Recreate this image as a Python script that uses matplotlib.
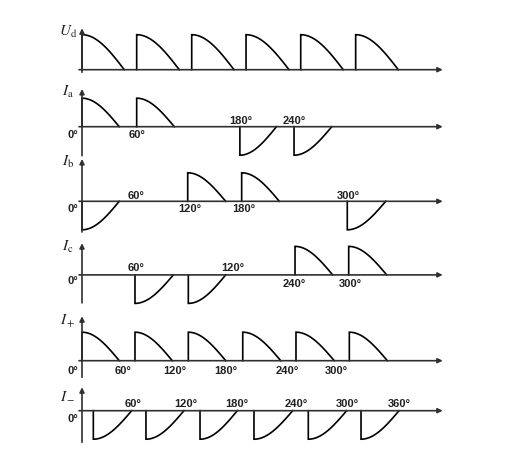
import numpy as np
import matplotlib
matplotlib.use('Agg')
import matplotlib.pyplot as plt

plt.rcParams['mathtext.fontset'] = 'stix'

W, H = 523, 464
PX_PER_DEG = 0.892   # horizontal scale of the drawing
X0 = 82              # pixel of 0 deg

# pulse start/end angles (deg)
ud_pos_start = [0, 61.3, 123, 183.9, 245.2, 306.8]
ud_pos_end = [47.4, 109.1, 170.4, 232.1, 292.9, 354.6]

ia_pos_start = [0, 61.3]
ia_pos_end = [41.8, 103.5]
ia_neg_start = [177, 237.7]
ia_neg_end = [218, 280]

ib_pos_start = [118.5, 179]
ib_pos_end = [161.1, 221.2]
ib_neg_start = [0, 297.4]
ib_neg_end = [41.8, 340.5]

ic_pos_start = [238.8, 299]
ic_pos_end = [281, 341.6]
ic_neg_start = [59.4, 119.2]
ic_neg_end = [102.4, 161.1]

ip_pos_start = [0, 59.4, 119.2, 180.2, 239.9, 299.7]
ip_pos_end = [41.8, 101.2, 161.1, 222.8, 282.8, 342.3]

im_neg_start = [12.7, 71.7, 132.3, 192.8, 253.7, 312.8]
im_neg_end = [55.7, 114.3, 174.1, 236.2, 296.7, 355.4]

# angle labels: text, x (deg), side (+1 above axis, -1 below)
ia_lab = ['60°', '180°', '240°']
ia_lab_x = [61.7, 178.3, 237.7]
ia_lab_side = [-1, 1, 1]

ib_lab = ['60°', '120°', '180°', '300°']
ib_lab_x = [60.9, 121, 181.4, 299]
ib_lab_side = [1, -1, -1, 1]

ic_lab = ['60°', '120°', '240°', '300°']
ic_lab_x = [60.9, 168.7, 237.4, 301]
ic_lab_side = [1, 1, -1, -1]

ip_lab = ['60°', '120°', '180°', '240°', '300°']
ip_lab_x = [45.7, 103.7, 160.7, 230, 285]
ip_lab_side = [-1, -1, -1, -1, -1]

im_lab = ['60°', '120°', '180°', '240°', '300°', '360°']
im_lab_x = [57.7, 116, 173.2, 240.7, 297.3, 356]
im_lab_side = [1, 1, 1, 1, 1, 1]

# panel layout in pixels: baseline y, amplitude, axis top, axis bottom, name y, label offsets, 0° offset
panels = [
    dict(name=r'$U_{\rm d}$', base=70.7, amp=35, top=41.4, bot=2.6, name_dy=39,
         pos=(ud_pos_start, ud_pos_end), neg=([], []), labs=([], [], []), off=(7, 7), zero=None),
    dict(name=r'$I_{\rm a}$', base=127.7, amp=28.5, top=37.7, bot=29, name_dy=36,
         pos=(ia_pos_start, ia_pos_end), neg=(ia_neg_start, ia_neg_end),
         labs=(ia_lab, ia_lab_x, ia_lab_side), off=(7, 7.3), zero=7.3),
    dict(name=r'$I_{\rm b}$', base=202.3, amp=28.5, top=42.3, bot=30.7, name_dy=40.6,
         pos=(ib_pos_start, ib_pos_end), neg=(ib_neg_start, ib_neg_end),
         labs=(ib_lab, ib_lab_x, ib_lab_side), off=(6, 7), zero=6.7),
    dict(name=r'$I_{\rm c}$', base=275.9, amp=28.5, top=31.7, bot=28, name_dy=29.3,
         pos=(ic_pos_start, ic_pos_end), neg=(ic_neg_start, ic_neg_end),
         labs=(ic_lab, ic_lab_x, ic_lab_side), off=(8.3, 8.3), zero=5.3),
    dict(name=r'$I_+$', base=361.7, amp=28.5, top=44.4, bot=16.6, name_dy=40,
         pos=(ip_pos_start, ip_pos_end), neg=([], []),
         labs=(ip_lab, ip_lab_x, ip_lab_side), off=(9, 9), zero=9),
    dict(name=r'$I_-$', base=411.7, amp=28.5, top=23.4, bot=31.6, name_dy=16.7,
         pos=([], []), neg=(im_neg_start, im_neg_end),
         labs=(im_lab, im_lab_x, im_lab_side), off=(7.4, 7.4), zero=7.6),
]

fig = plt.figure(figsize=(W / 100, H / 100), dpi=100)

xmin = -X0 / PX_PER_DEG
xmax = (W - X0) / PX_PER_DEG
span = 55  # pixels above / below the baseline covered by each axes
axis_col = '#303030'
tfont = dict(family='Liberation Sans', fontsize=8, fontweight='bold', color='#202020')


def px2deg(px):
    return (px - X0) / PX_PER_DEG


def pulse(ax, s, e, sign):
    t = np.linspace(0, 1, 60)
    xs = np.concatenate([[s], s + (e - s) * t])
    ys = np.concatenate([[0], sign * np.cos(np.pi / 2 * t)])
    ax.plot(xs, ys, color='black', lw=1.2, solid_joinstyle='miter', clip_on=False)


for p in panels:
    a = p['amp']
    ax = fig.add_axes([0, 1 - (p['base'] + span) / H, 1, 2 * span / H])
    ax.set_xlim(xmin, xmax)
    ax.set_ylim(-span / a, span / a)
    ax.axis('off')
    ax.patch.set_alpha(0)

    # axes with arrows
    ax.annotate('', xy=(px2deg(442.7), 0), xytext=(px2deg(79), 0),
                arrowprops=dict(arrowstyle='-|>', color=axis_col, lw=1.2,
                                mutation_scale=7, shrinkA=0, shrinkB=0))
    ax.annotate('', xy=(0, p['top'] / a), xytext=(0, -p['bot'] / a),
                arrowprops=dict(arrowstyle='-|>', color=axis_col, lw=1.2,
                                mutation_scale=7, shrinkA=0, shrinkB=0))

    for s, e in zip(*p['pos']):
        pulse(ax, s, e, 1)
    for s, e in zip(*p['neg']):
        pulse(ax, s, e, -1)

    ax.text(px2deg(68), p['name_dy'] / a, p['name'], ha='center', va='center',
            fontsize=11, color='#202020')

    if p['zero'] is not None:
        ax.text(px2deg(73), -p['zero'] / a, '0°', ha='center', va='center', **tfont)

    txt, xs, sides = p['labs']
    up, down = p['off']
    for t, x, sd in zip(txt, xs, sides):
        dy = up if sd > 0 else -down
        ax.text(x, dy / a, t, ha='center', va='center', **tfont)

fig.savefig('out.png', dpi=100)
